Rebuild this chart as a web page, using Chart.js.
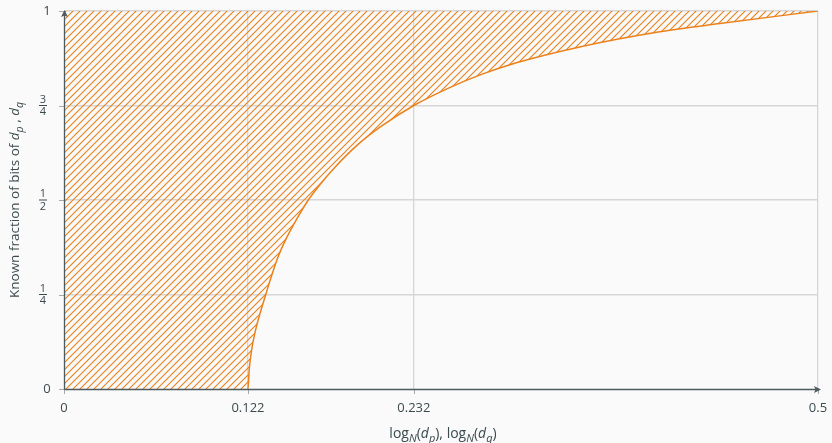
<!DOCTYPE html>
<html>
<head>
<meta charset="utf-8">
<script src="https://cdn.jsdelivr.net/npm/chart.js@4.4.1/dist/chart.umd.min.js"></script>
<style>
  html, body { margin: 0; padding: 0; background: #fafafa; }
  #wrap { width: 832px; height: 443px; }
</style>
</head>
<body>
<div id="wrap"><canvas id="c" width="832" height="443"></canvas></div>
<script>
// Axis ticks
const xTickValues = [0, 0.122, 0.232, 0.5];
const xTickLabels = ['0', '0.122', '0.232', '0.5'];
const yTickValues = [0, 0.25, 0.5, 0.75, 1];
const yTickLabels = [['0'], ['1', '4'], ['1', '2'], ['3', '4'], ['1']];

// Boundary of the attackable region (log_N(d) vs. known fraction of bits)
const boundaryX = [0, 0.1220, 0.1228, 0.1243, 0.1267, 0.1300, 0.1338, 0.1377, 0.1420, 0.1476, 0.1544,
                   0.1620, 0.1698, 0.1800, 0.1950, 0.2100, 0.2320, 0.2550, 0.2760, 0.3000, 0.3420,
                   0.3950, 0.4350, 0.5000];
const boundaryY = [0, 0, 0.05, 0.10, 0.15, 0.20, 0.25, 0.30, 0.35, 0.40, 0.45,
                   0.50, 0.541, 0.588, 0.647, 0.694, 0.75, 0.796, 0.831, 0.863, 0.905,
                   0.945, 0.967, 1.0];

const ORANGE = '#eb811b';
const AXIS = '#4d5a5e';
const TEXT = '#3b4a4e';
const FONT = '"Open Sans", "Noto Sans", sans-serif';

// Diagonal hatch pattern for the filled region
function makeHatch() {
  const s = 7;
  const c = document.createElement('canvas');
  c.width = s; c.height = s;
  const g = c.getContext('2d');
  g.strokeStyle = ORANGE;
  g.lineWidth = 1.1;
  g.beginPath();
  g.moveTo(0, s); g.lineTo(s, 0);
  g.moveTo(-1, 1); g.lineTo(1, -1);
  g.moveTo(s - 1, s + 1); g.lineTo(s + 1, s - 1);
  g.stroke();
  return g.createPattern(c, 'repeat');
}

// Draw a run of mixed regular / italic / subscript text
function runsWidth(ctx, runs, size, subSize) {
  let w = 0;
  runs.forEach(r => {
    ctx.font = (r.it ? 'italic ' : '') + (r.sub ? subSize : size) + 'px ' + FONT;
    w += ctx.measureText(r.t).width;
  });
  return w;
}
function drawRuns(ctx, runs, cx, cy, size, subSize) {
  const w = runsWidth(ctx, runs, size, subSize);
  let x = cx - w / 2;
  ctx.textBaseline = 'alphabetic';
  ctx.textAlign = 'left';
  const base = cy + size * 0.36;
  runs.forEach(r => {
    ctx.font = (r.it ? 'italic ' : '') + (r.sub ? subSize : size) + 'px ' + FONT;
    ctx.fillText(r.t, x, r.sub ? base + size * 0.3 : base);
    x += ctx.measureText(r.t).width;
  });
}

const xTitleRuns = [
  {t: 'log'}, {t: 'N', it: true, sub: true}, {t: '('}, {t: 'd', it: true}, {t: 'p', it: true, sub: true},
  {t: '), log'}, {t: 'N', it: true, sub: true}, {t: '('}, {t: 'd', it: true}, {t: 'q', it: true, sub: true}, {t: ')'}
];
const yTitleRuns = [
  {t: 'Known fraction of bits of '}, {t: 'd', it: true}, {t: 'p', it: true, sub: true},
  {t: ' , '}, {t: 'd', it: true}, {t: 'q', it: true, sub: true}
];

const decor = {
  id: 'decor',
  afterDatasetsDraw(chart) {
    const {ctx, chartArea: a, scales: {x, y}} = chart;
    ctx.save();

    // tick marks
    ctx.strokeStyle = '#a8a8a8';
    ctx.lineWidth = 1;
    xTickValues.forEach(v => {
      const px = Math.round(x.getPixelForValue(v)) + 0.5;
      ctx.beginPath(); ctx.moveTo(px, a.bottom); ctx.lineTo(px, a.bottom + 5); ctx.stroke();
    });
    yTickValues.forEach(v => {
      const py = Math.round(y.getPixelForValue(v)) + 0.5;
      ctx.beginPath(); ctx.moveTo(a.left - 5, py); ctx.lineTo(a.left, py); ctx.stroke();
    });

    // axis lines with arrow heads
    const x0 = Math.round(a.left) + 0.5, y0 = Math.round(a.bottom) + 0.5;
    ctx.strokeStyle = AXIS;
    ctx.fillStyle = AXIS;
    ctx.lineWidth = 1.3;
    ctx.beginPath();
    ctx.moveTo(x0, y0); ctx.lineTo(x0, a.top + 2);
    ctx.moveTo(x0, y0); ctx.lineTo(a.right + 1, y0);
    ctx.stroke();
    // up arrow
    ctx.beginPath();
    ctx.moveTo(x0, a.top - 1);
    ctx.lineTo(x0 - 3.5, a.top + 6);
    ctx.lineTo(x0, a.top + 4.5);
    ctx.lineTo(x0 + 3.5, a.top + 6);
    ctx.closePath(); ctx.fill();
    // right arrow
    ctx.beginPath();
    ctx.moveTo(a.right + 3, y0);
    ctx.lineTo(a.right - 4, y0 - 3.5);
    ctx.lineTo(a.right - 2.5, y0);
    ctx.lineTo(a.right - 4, y0 + 3.5);
    ctx.closePath(); ctx.fill();

    // x tick labels
    ctx.fillStyle = TEXT;
    ctx.textAlign = 'center';
    ctx.textBaseline = 'middle';
    ctx.font = '13px ' + FONT;
    xTickValues.forEach((v, i) => {
      ctx.fillText(xTickLabels[i], x.getPixelForValue(v), a.bottom + 19);
    });

    // y tick labels (stacked fractions)
    yTickValues.forEach((v, i) => {
      const py = y.getPixelForValue(v);
      const lab = yTickLabels[i];
      if (lab.length === 1) {
        ctx.font = '13px ' + FONT;
        ctx.fillText(lab[0], a.left - 17, py);
      } else {
        ctx.font = '11px ' + FONT;
        ctx.fillText(lab[0], a.left - 21, py - 6);
        ctx.fillText(lab[1], a.left - 21, py + 6.5);
        ctx.fillRect(a.left - 25, py - 0.5, 8, 1);
      }
    });

    // axis titles
    drawRuns(ctx, xTitleRuns, (a.left + a.right) / 2 + 2, a.bottom + 44, 14, 11);
    ctx.save();
    ctx.translate(14, 200);
    ctx.rotate(-Math.PI / 2);
    drawRuns(ctx, yTitleRuns, 0, 0, 13.5, 10.5);
    ctx.restore();

    ctx.restore();
  }
};

const gridColor = ctx => (ctx.tick && ctx.tick.value === 0) ? 'rgba(0,0,0,0)' : '#d6d6d6';

new Chart(document.getElementById('c'), {
  type: 'scatter',
  data: {
    datasets: [{
      data: boundaryX.map((v, i) => ({x: v, y: boundaryY[i]})),
      showLine: true,
      borderColor: ORANGE,
      borderWidth: 1.5,
      pointRadius: 0,
      fill: 'end',
      backgroundColor: makeHatch(),
      cubicInterpolationMode: 'monotone',
      segment: {
        borderColor: c => c.p0DataIndex === 0 ? 'rgba(0,0,0,0)' : ORANGE
      }
    }]
  },
  options: {
    responsive: false,
    animation: false,
    devicePixelRatio: 1,
    layout: {padding: {left: 0, right: 14, top: 11, bottom: 0}},
    plugins: {legend: {display: false}, tooltip: {enabled: false}},
    scales: {
      x: {
        type: 'linear', min: 0, max: 0.5,
        afterBuildTicks: s => { s.ticks = xTickValues.map(v => ({value: v})); },
        afterFit: s => { s.height = 54; },
        ticks: {display: false},
        border: {display: false},
        grid: {color: gridColor, lineWidth: 1.3, drawTicks: false}
      },
      y: {
        type: 'linear', min: 0, max: 1,
        afterBuildTicks: s => { s.ticks = yTickValues.map(v => ({value: v})); },
        afterFit: s => { s.width = 64; },
        ticks: {display: false},
        border: {display: false},
        grid: {color: gridColor, lineWidth: 1.5, drawTicks: false}
      }
    }
  },
  plugins: [decor]
});
</script>
</body>
</html>
